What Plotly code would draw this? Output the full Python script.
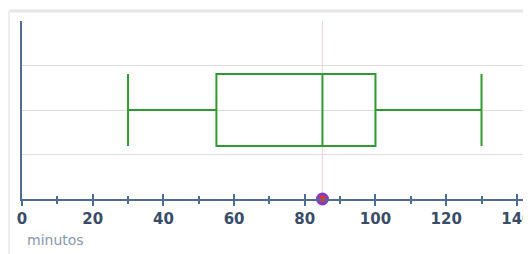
import plotly.graph_objects as go

# Data
box_min = [30]
box_q1 = [55]
box_median = [85]
box_q3 = [100]
box_max = [130]
box_y = [2]
marker_x = [85]
marker_y = [0]
x_ticks = [0, 20, 40, 60, 80, 100, 120, 140]
axis_title = "minutos"

green = "#2f9a2f"
axis_col = "#4f6d94"

fig = go.Figure()

fig.add_trace(go.Box(
    y=box_y, q1=box_q1, median=box_median, q3=box_q3,
    lowerfence=box_min, upperfence=box_max,
    orientation="h", width=1.62, whiskerwidth=1,
    line=dict(color=green, width=2), fillcolor="rgba(0,0,0,0)",
    showlegend=False,
))

fig.add_trace(go.Scatter(x=marker_x, y=marker_y, mode="markers",
                         marker=dict(size=10, color="#f0302a",
                                     line=dict(color="#7d3fc8", width=3)),
                         cliponaxis=False, showlegend=False))

# dummy trace on overlaying axis for inward ticks
fig.add_trace(go.Scatter(x=[None], y=[None], xaxis="x2", showlegend=False))

# faint vertical guide at the marked value, beneath the box
fig.add_vline(x=marker_x[0], line=dict(color="#f4d0d6", width=1), layer="below")

# page body has an 8px default margin, so the figure is sized to fill the rest
fig.update_layout(
    width=523, height=246,
    margin=dict(l=14, r=0, t=13, b=55, autoexpand=False),
    plot_bgcolor="white", paper_bgcolor="white",
    xaxis=dict(range=[0, 144], tickvals=x_ticks, ticks="outside", ticklen=5,
               tickwidth=2, tickcolor=axis_col, showline=True, linecolor=axis_col,
               linewidth=2, showgrid=False, zeroline=False, automargin=False,
               ticklabeloverflow="allow",
               tickfont=dict(family="DejaVu Sans", size=15, color="#3a4d68",
                             weight="bold"),
               minor=dict(dtick=10, tick0=0, ticks="outside", ticklen=3,
                          tickwidth=2, tickcolor=axis_col, showgrid=False)),
    xaxis2=dict(range=[0, 144], overlaying="x", tickvals=x_ticks, ticks="inside",
                ticklen=5, tickwidth=2, tickcolor=axis_col, showticklabels=False,
                showgrid=False, zeroline=False, side="bottom", automargin=False,
                minor=dict(dtick=10, tick0=0, ticks="inside", ticklen=3,
                           tickwidth=2, tickcolor=axis_col, showgrid=False)),
    yaxis=dict(range=[0, 4], tickvals=[1, 2, 3, 4], showticklabels=False,
               showgrid=True, gridcolor="#dcdcdc", gridwidth=1, zeroline=False,
               showline=True, linecolor=axis_col, linewidth=2, ticks="",
               automargin=False),
    annotations=[dict(text=axis_title, xref="paper", yref="paper", x=0.006,
                      y=-0.23, xanchor="left", yanchor="middle", showarrow=False,
                      font=dict(family="DejaVu Sans", size=14, color="#8797ad"))],
)
fig.add_shape(type="line", xref="paper", yref="paper", x0=-0.0255, x1=1.01,
              y0=1.056, y1=1.056, line=dict(color="#e6e6e6", width=3))
fig.add_shape(type="line", xref="paper", yref="paper", x0=-0.0255, x1=-0.0255,
              y0=1.056, y1=-0.31, line=dict(color="#eeeeee", width=2))

fig.write_html("out.html")
